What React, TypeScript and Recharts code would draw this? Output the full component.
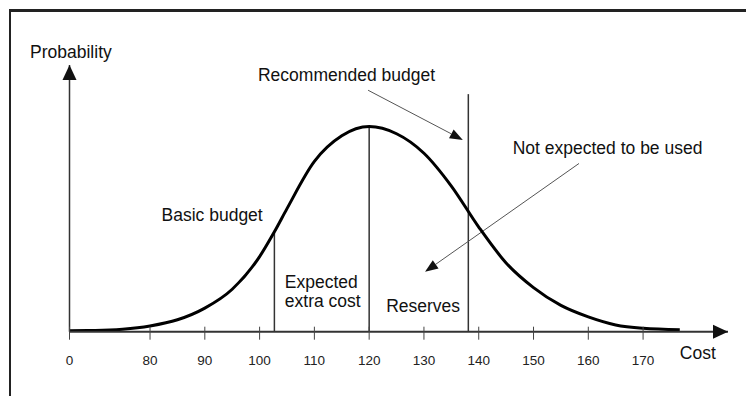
import { ComposedChart, Line, XAxis, YAxis, ReferenceLine, ReferenceDot } from "recharts"

// cost vs. probability density
const costs = [65.3, 70, 75, 80, 85, 90, 95, 100, 102.7, 105, 110, 115, 120, 125, 130, 135, 140, 145, 150, 155, 160, 165, 170, 176.7]
const probability = [0.005, 0.006, 0.012, 0.028, 0.058, 0.115, 0.207, 0.366, 0.487, 0.6, 0.83, 0.955, 1.0, 0.965, 0.87, 0.71, 0.51, 0.335, 0.215, 0.128, 0.072, 0.033, 0.017, 0.01]

const tickValues = [65.3, 80, 90, 100, 110, 120, 130, 140, 150, 160, 170]
const tickLabels = ["0", "80", "90", "100", "110", "120", "130", "140", "150", "160", "170"]

const xDomain = [65.3, 185.5]
const yDomain = [0, 1.3]

// budget markers on the cost axis
const basicBudget = 102.7
const expectedCost = 120
const recommendedBudget = 138.1
const recommendedTop = 1.158

// pointer arrows: [fromCost, fromProb, toCost, toProb]
const recommendedArrow = [119.8, 1.177, 137.1, 0.935]
const unusedArrow = [158.3, 0.82, 130.2, 0.292]

// text notes: [cost, prob, text]
const notes: [number, number, string][] = [
  [58.1, 1.336, "Probability"],
  [99.7, 1.223, "Recommended budget"],
  [146.2, 0.866, "Not expected to be used"],
  [82.1, 0.541, "Basic budget"],
  [104.6, 0.2115, "Expected"],
  [104.6, 0.122, "extra cost"],
  [123.1, 0.0975, "Reserves"],
  [176.7, -0.1345, "Cost"],
]

const data = costs.map((cost, i) => ({ cost, p: probability[i] }))
const valueAt = (c: number) => probability[costs.indexOf(c)]

const FONT = "'Liberation Sans', Arial, sans-serif"

function CostTick(props: any) {
  const { x, y, payload } = props
  const i = tickValues.indexOf(payload.value)
  return (
    <g>
      <line x1={x} x2={x} y1={y - 5} y2={y + 8} stroke="#444" strokeWidth={1} />
      <text x={x} y={y + 33} textAnchor="middle" fontSize={13.5} fontFamily={FONT} fill="#222">
        {tickLabels[i]}
      </text>
    </g>
  )
}

function ArrowLine(props: any) {
  const { x1, y1, x2, y2 } = props
  const a = Math.atan2(y2 - y1, x2 - x1)
  const len = 13
  const half = 5
  const bx = x2 - len * Math.cos(a)
  const by = y2 - len * Math.sin(a)
  const px = -Math.sin(a) * half
  const py = Math.cos(a) * half
  return (
    <g>
      <line x1={x1} y1={y1} x2={bx} y2={by} stroke="#555" strokeWidth={1} />
      <polygon points={`${x2},${y2} ${bx + px},${by + py} ${bx - px},${by - py}`} fill="#111" />
    </g>
  )
}

const rightHead = (p: any) => (
  <polygon points={`${p.cx},${p.cy} ${p.cx - 15},${p.cy - 7} ${p.cx - 15},${p.cy + 7}`} fill="#111" />
)
const upHead = (p: any) => (
  <polygon points={`${p.cx},${p.cy} ${p.cx - 7},${p.cy + 15} ${p.cx + 7},${p.cy + 15}`} fill="#111" />
)

export default function App() {
  return (
    <div style={{ position: "absolute", left: 0, top: 0, width: 746, height: 396, background: "#fff" }}>
      <div
        style={{
          position: "absolute",
          left: 9,
          top: 9,
          right: 0,
          bottom: 0,
          borderTop: "3px solid #222",
          borderLeft: "2px solid #222",
        }}
      />
      <div style={{ position: "absolute", left: 0, top: 0 }}>
        <ComposedChart width={746} height={396} data={data} margin={{ top: 65, right: 18, bottom: 0, left: 0 }}>
          <XAxis
            type="number"
            dataKey="cost"
            domain={xDomain}
            ticks={tickValues}
            interval={0}
            allowDataOverflow
            height={64.3}
            tickSize={0}
            tickMargin={0}
            tickLine={false}
            tick={<CostTick />}
            axisLine={{ stroke: "#333", strokeWidth: 2 }}
          />
          <YAxis
            type="number"
            domain={yDomain}
            allowDataOverflow
            width={69.5}
            tick={false}
            tickLine={false}
            axisLine={{ stroke: "#333", strokeWidth: 1.5 }}
          />
          <ReferenceDot x={xDomain[1]} y={0} ifOverflow="visible" shape={rightHead} />
          <ReferenceDot x={xDomain[0]} y={yDomain[1]} ifOverflow="visible" shape={upHead} />

          <ReferenceLine
            segment={[{ x: basicBudget, y: 0 }, { x: basicBudget, y: valueAt(basicBudget) }]}
            stroke="#333"
            strokeWidth={1.5}
          />
          <ReferenceLine
            segment={[{ x: expectedCost, y: 0 }, { x: expectedCost, y: valueAt(expectedCost) }]}
            stroke="#333"
            strokeWidth={1.5}
          />
          <ReferenceLine
            segment={[{ x: recommendedBudget, y: 0 }, { x: recommendedBudget, y: recommendedTop }]}
            stroke="#333"
            strokeWidth={1.5}
          />

          <ReferenceLine
            segment={[{ x: recommendedArrow[0], y: recommendedArrow[1] }, { x: recommendedArrow[2], y: recommendedArrow[3] }]}
            shape={<ArrowLine />}
          />
          <ReferenceLine
            segment={[{ x: unusedArrow[0], y: unusedArrow[1] }, { x: unusedArrow[2], y: unusedArrow[3] }]}
            shape={<ArrowLine />}
          />

          <Line
            type="monotone"
            dataKey="p"
            stroke="#000"
            strokeWidth={3}
            dot={false}
            activeDot={false}
            isAnimationActive={false}
          />

          {notes.map(([c, p, t]) => (
            <ReferenceDot
              key={t}
              x={c}
              y={p}
              ifOverflow="visible"
              shape={(d: any) => (
                <text x={d.cx} y={d.cy} fontSize={17.5} fontFamily={FONT} fill="#111">
                  {t}
                </text>
              )}
            />
          ))}
        </ComposedChart>
      </div>
    </div>
  )
}
